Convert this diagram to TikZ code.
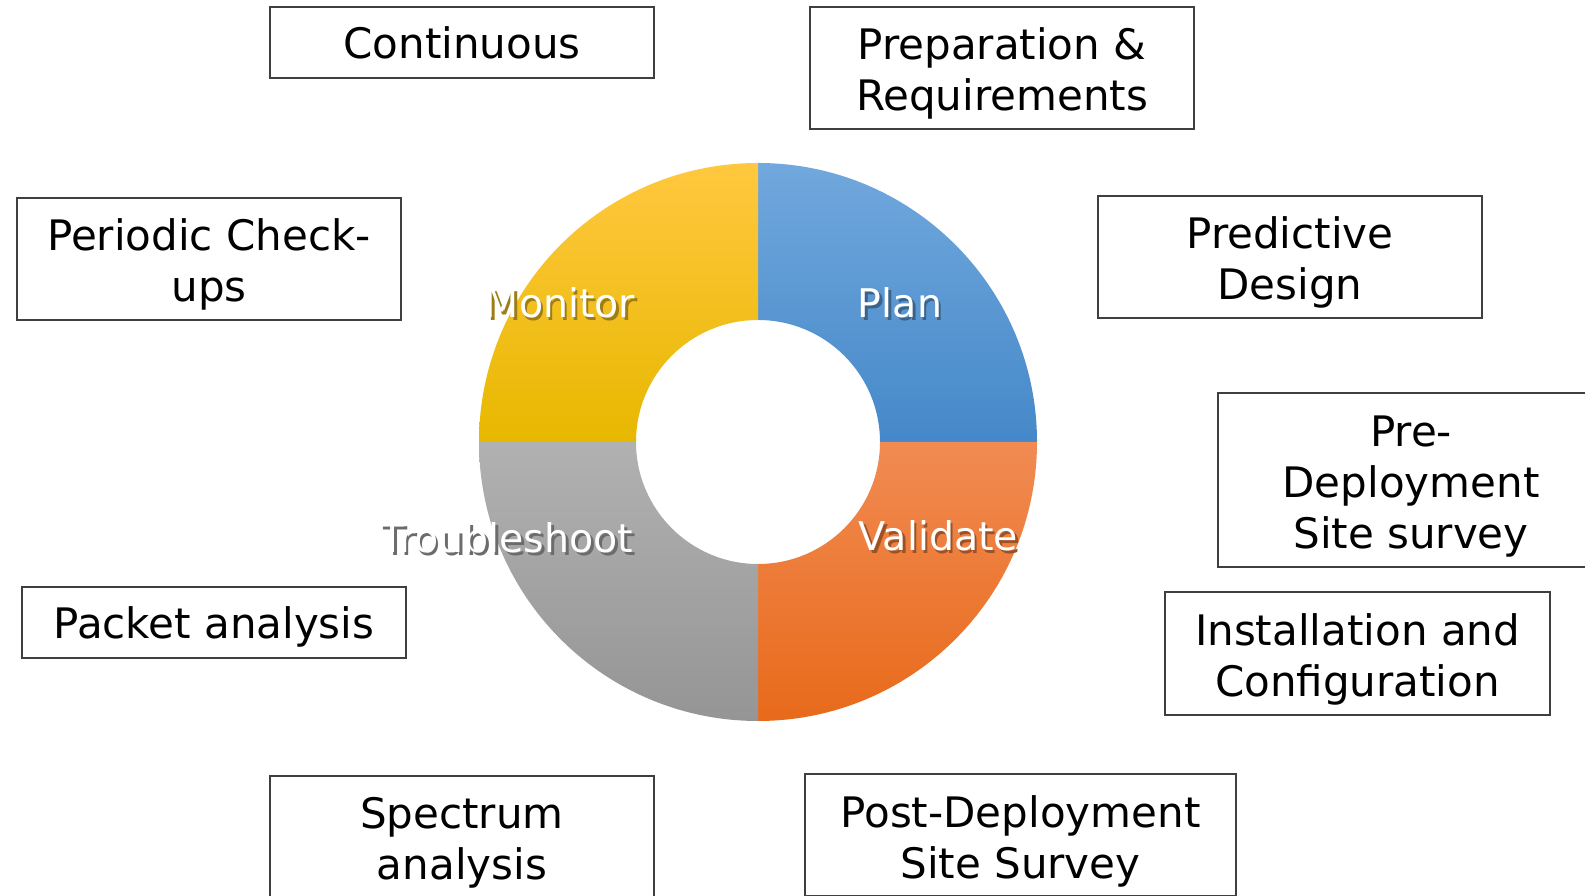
\documentclass[tikz,border=0pt]{standalone}
\usepackage{fontspec}
\setmainfont{DejaVu Sans}
\usetikzlibrary{calc}

\definecolor{framegray}{HTML}{3F3F3F}
\definecolor{plantop}{HTML}{71A8DD}
\definecolor{planbot}{HTML}{4588C9}
\definecolor{montop}{HTML}{FFC83F}
\definecolor{monbot}{HTML}{E7B800}
\definecolor{valtop}{HTML}{F18B52}
\definecolor{valbot}{HTML}{E86A1B}
\definecolor{trtop}{HTML}{B1B1B1}
\definecolor{trbot}{HTML}{959595}

\tikzset{
  infobox/.style={draw=framegray, line width=1.8pt, fill=white, rectangle,
    inner sep=0pt},
  boxtext/.style={inner sep=0pt, align=center, text=black,
    font=\fontsize{42}{51}\selectfont},
  oneline/.style={text height=31pt, text depth=0pt},
  ringlabel/.style={anchor=base, text=white, inner sep=0pt,
    font=\fontsize{39.5}{46}\selectfont}
}

% white segment caption with a dark drop shadow (shadow colour given)
\newcommand{\ringtext}[4]{%
  \node[ringlabel] (#2) at (#1)
    {\rlap{\hspace*{2.5pt}\raisebox{-2.5pt}{\color{#3}#4}}#4};
}

% framed box: name, centre, width, height, text shift, text options, text
\newcommand{\infobox}[7]{%
  \node[infobox, minimum width=#3, minimum height=#4] (#1) at #2 {};
  \node[boxtext, #6] (#1-text) at ([yshift=#5]#1.center) {#7};
}

\colorlet{planshadow}{plantop!50!planbot!65!black}
\colorlet{monshadow}{montop!50!monbot!65!black}
\colorlet{trshadow}{trtop!60!trbot!65!black}
\colorlet{valshadow}{valtop!60!valbot!65!black}

\begin{document}
\begin{tikzpicture}[x=1pt,y=1pt]
  \useasboundingbox (0,0) rectangle (1585,896);
  \clip (0,0) rectangle (1585,896);

  % ring centre and radii
  \coordinate (c) at (758,454);
  \def\Ro{279}
  \def\Ri{122}

  % Plan (upper right)
  \path[top color=plantop, bottom color=planbot]
    ($(c)+(\Ro,0)$) arc[start angle=0, end angle=90, radius=\Ro]
    -- ($(c)+(0,\Ri)$) arc[start angle=90, end angle=0, radius=\Ri] -- cycle;
  % Validate (lower right)
  \path[top color=valtop, bottom color=valbot]
    ($(c)+(0,-\Ro)$) arc[start angle=-90, end angle=0, radius=\Ro]
    -- ($(c)+(\Ri,0)$) arc[start angle=0, end angle=-90, radius=\Ri] -- cycle;
  % Troubleshoot (lower left)
  \path[top color=trtop, bottom color=trbot]
    ($(c)+(-\Ro,0)$) arc[start angle=180, end angle=270, radius=\Ro]
    -- ($(c)+(0,-\Ri)$) arc[start angle=270, end angle=180, radius=\Ri] -- cycle;
  % Monitor (upper left)
  \path[top color=montop, bottom color=monbot]
    ($(c)+(0,\Ro)$) arc[start angle=90, end angle=180, radius=\Ro]
    -- ($(c)+(-\Ri,0)$) arc[start angle=180, end angle=90, radius=\Ri] -- cycle;

  % segment labels
  \coordinate (pPlan) at (900,578);
  \coordinate (pMon) at (560,578);
  \coordinate (pTrb) at (507,343);
  \coordinate (pVal) at (938.5,345);
  \ringtext{pPlan}{plan}{planshadow}{Plan}
  \ringtext{pMon}{monitor}{monshadow}{Monitor}
  \ringtext{pTrb}{troubleshoot}{trshadow}{Troubleshoot}
  \ringtext{pVal}{validate}{valshadow}{Validate}

  % activity boxes
  \infobox{cont}{(462,853.5)}{384pt}{71pt}{-1pt}{oneline}{Continuous}
  \infobox{prep}{(1002,828)}{384pt}{122pt}{-5pt}{}{Preparation \&\\Requirements}
  \infobox{period}{(209,637)}{384pt}{122pt}{-5pt}{}{Periodic Check-\\ups}
  \infobox{pred}{(1290,639)}{384pt}{122pt}{-5pt}{}{Predictive\\Design}
  \infobox{predep}{(1411,416)}{386pt}{174pt}{-6.5pt}{}{Pre-\\Deployment\\Site survey}
  \infobox{install}{(1357.5,242.5)}{385pt}{123pt}{-6pt}{}{Installation and\\Configuration}
  \infobox{packet}{(214,273.5)}{384pt}{71pt}{-1pt}{oneline}{Packet analysis}
  \infobox{spectrum}{(462,59.5)}{384pt}{121pt}{-6.5pt}{}{Spectrum\\analysis}
  \infobox{postdep}{(1020.5,61)}{431pt}{122pt}{-6pt}{}{Post-Deployment\\Site Survey}
\end{tikzpicture}
\end{document}
